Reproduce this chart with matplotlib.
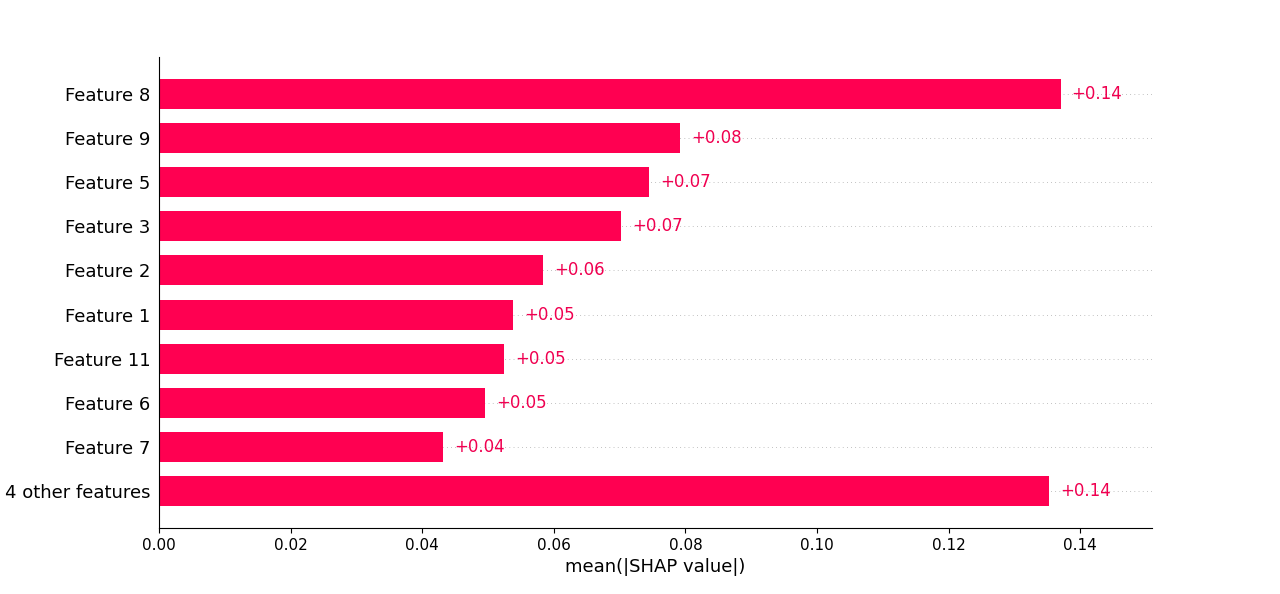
import matplotlib
matplotlib.use("Agg")
import matplotlib.pyplot as plt
import numpy as np

features = ["Feature 8", "Feature 9", "Feature 5", "Feature 3", "Feature 2",
            "Feature 1", "Feature 11", "Feature 6", "Feature 7", "4 other features"]
values = [0.1370, 0.0792, 0.0745, 0.0702, 0.0584, 0.0538, 0.0524, 0.0496, 0.0432, 0.1353]
labels = ["+0.14", "+0.08", "+0.07", "+0.07", "+0.06", "+0.05", "+0.05", "+0.05", "+0.04", "+0.14"]

color = "#ff0051"
text_color = "#f00050"

fig = plt.figure(figsize=(12.8, 5.94), dpi=100)
ax = fig.add_axes([159/1280, 1-528/594, (1152-159)/1280, (528-57)/594])

n = len(features)
ypos = np.arange(n)[::-1]
ax.barh(ypos, values, height=0.68, color=color, align="center")

xmax = 0.1509
for y in ypos:
    ax.axhline(y, color="#888888", lw=0.5, dashes=(1, 5), zorder=-1)

ax.set_xlim(0, xmax)
ax.set_ylim(-0.835, n - 1 + 0.835)

bbox = ax.get_window_extent()
xscale = (xmax - 0) / (bbox.width / fig.dpi * 72)
for y, v, lab in zip(ypos, values, labels):
    ax.text(v + 8 * xscale, y, lab, ha="left", va="center", color=text_color, fontsize=12)

ax.set_yticks(ypos)
ax.set_yticklabels(features, fontsize=13)
ax.tick_params(axis="y", length=0, pad=6)
ax.tick_params(axis="x", labelsize=11)
ax.set_xticks([0.0, 0.02, 0.04, 0.06, 0.08, 0.10, 0.12, 0.14])
ax.set_xticklabels(["0.00", "0.02", "0.04", "0.06", "0.08", "0.10", "0.12", "0.14"])
ax.spines["top"].set_visible(False)
ax.spines["right"].set_visible(False)
ax.set_xlabel("mean(|SHAP value|)", fontsize=13)

fig.savefig("out.png", dpi=100)
